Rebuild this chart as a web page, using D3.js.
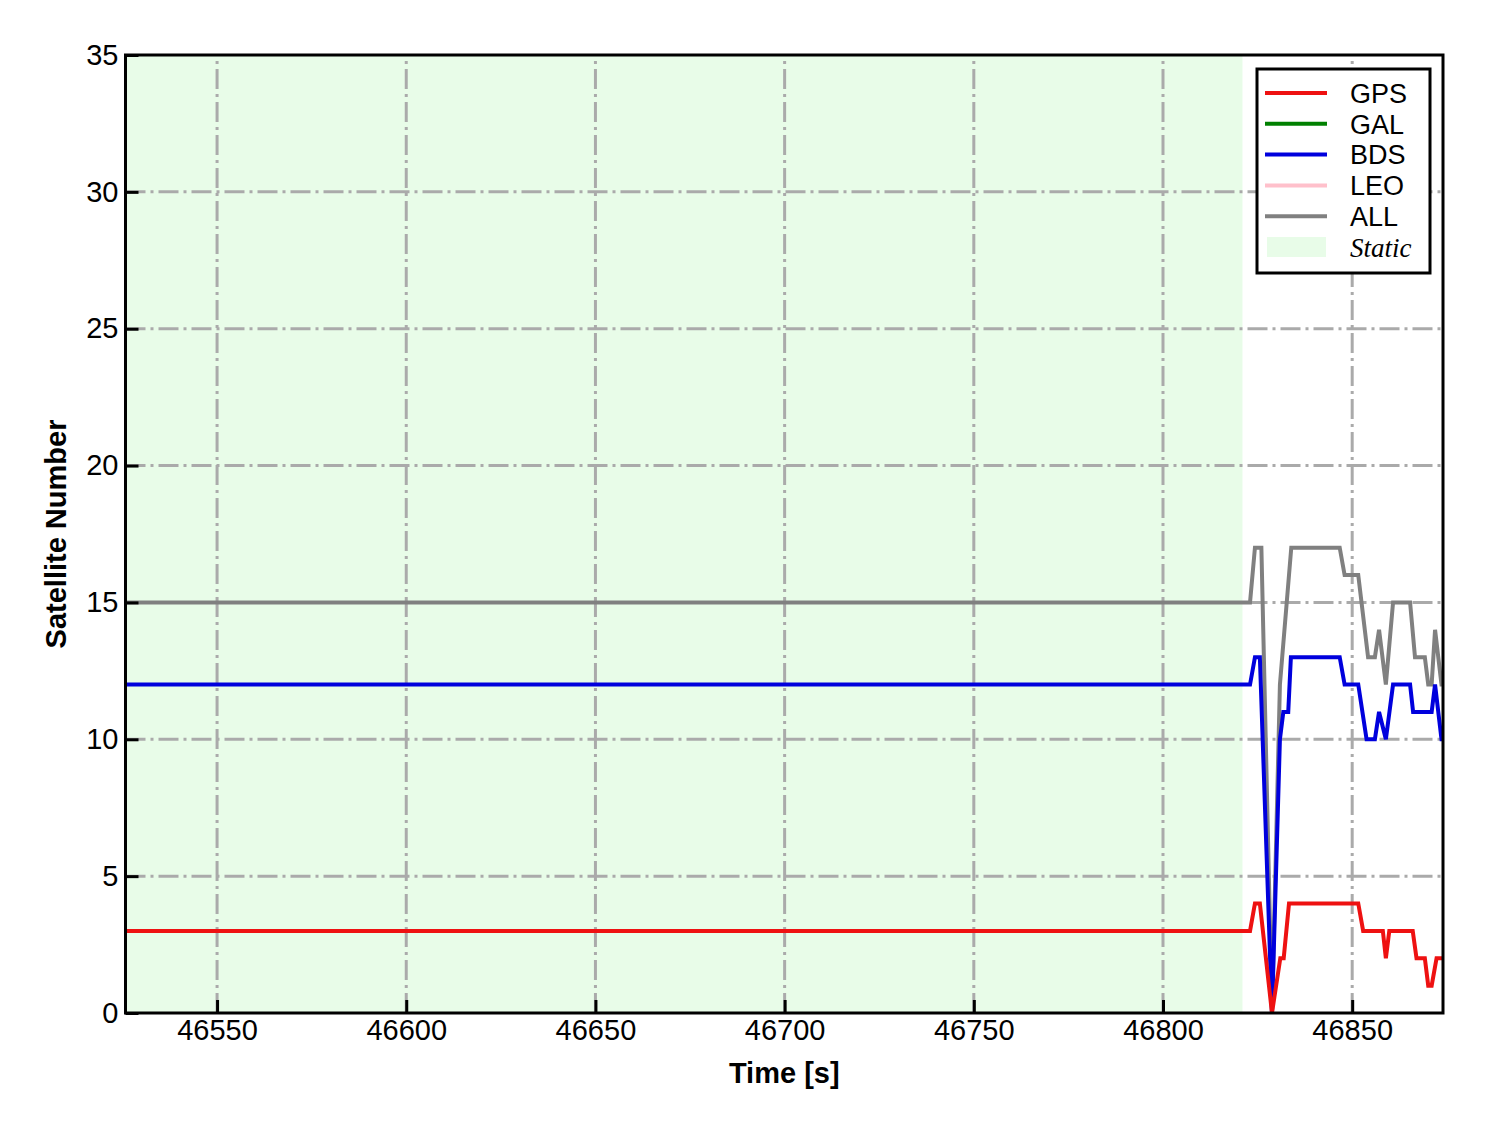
<!DOCTYPE html>
<html>
<head>
<meta charset="utf-8">
<script src="https://cdn.jsdelivr.net/npm/d3@7"></script>
<style>
body { margin: 0; background: #fff; }
text { font-family: "Liberation Sans", Arial, sans-serif; }
</style>
</head>
<body>
<svg width="1488" height="1133"></svg>
<script>
// data (time in s, satellite counts)
const gpsTime = [46525.8, 46823, 46824.3, 46825.6, 46828.8, 46831, 46831.9, 46833.3, 46851.6, 46852.9, 46858.1, 46858.9, 46859.8, 46866, 46867, 46869.2, 46870.1, 46871, 46872.3, 46874];
const gpsNum  = [3, 3, 4, 4, 0, 2, 2, 4, 4, 3, 3, 2, 3, 3, 2, 2, 1, 1, 2, 2];

const bdsTime = [46525.8, 46823, 46824.3, 46825.6, 46828.8, 46830.9, 46831.8, 46833.1, 46833.8, 46846.7, 46848, 46851.6, 46853.8, 46856, 46857.1, 46858.9, 46860.8, 46865.3, 46866.1, 46871, 46871.9, 46873.6, 46874];
const bdsNum  = [12, 12, 13, 13, 0, 10, 11, 11, 13, 13, 12, 12, 10, 10, 11, 10, 12, 12, 11, 11, 12, 10, 10];

const allTime = [46525.8, 46823, 46824.3, 46826, 46828.8, 46830.9, 46833.9, 46846.7, 46848, 46851.6, 46854.2, 46856, 46857.1, 46858.9, 46860.8, 46865.3, 46866.6, 46869.2, 46870.1, 46871, 46871.9, 46873.6, 46874];
const allNum  = [15, 15, 17, 17, 0, 12, 17, 17, 16, 16, 13, 13, 14, 12, 15, 15, 13, 13, 12, 12, 14, 12, 12];

const staticSpan = [46525.8, 46821];
const xTicks = [46550, 46600, 46650, 46700, 46750, 46800, 46850];
const yTicks = [0, 5, 10, 15, 20, 25, 30, 35];
const legendNames = ["GPS", "GAL", "BDS", "LEO", "ALL"];
const legendColors = ["#ee1111", "green", "#0000dd", "pink", "gray"];

const svg = d3.select('svg');
const margin = { top: 55, right: 45, bottom: 120, left: 125.5 };
const width = +svg.attr('width');
const height = +svg.attr('height');

const xScale = d3.scaleLinear()
    .domain([46525.8, 46874])
    .range([margin.left, width - margin.right]);
const yScale = d3.scaleLinear()
    .domain([0, 35])
    .range([height - margin.bottom, margin.top]);

const x0 = xScale.range()[0], x1 = xScale.range()[1];
const y0 = yScale.range()[0], y1 = yScale.range()[1];

svg.append('defs').append('clipPath').attr('id', 'plot')
    .append('rect')
    .attr('x', x0).attr('y', y1)
    .attr('width', x1 - x0).attr('height', y0 - y1);

// static period background
svg.append('rect')
    .attr('x', xScale(staticSpan[0]))
    .attr('y', y1)
    .attr('width', xScale(staticSpan[1]) - xScale(staticSpan[0]))
    .attr('height', y0 - y1)
    .attr('fill', '#e8fce8');

// grid
const grid = svg.append('g')
    .attr('stroke', '#aaaaaa')
    .attr('stroke-width', 3)
    .attr('stroke-dasharray', '20,5,3,5');
grid.selectAll('.vx').data(xTicks).join('line')
    .attr('x1', d => xScale(d)).attr('x2', d => xScale(d))
    .attr('y1', y0).attr('y2', y1);
grid.selectAll('.hy').data(yTicks.slice(1, -1)).join('line')
    .attr('x1', x0).attr('x2', x1)
    .attr('y1', d => yScale(d)).attr('y2', d => yScale(d));

// series
const series = [
    { key: 'ALL', t: allTime, v: allNum, color: legendColors[4] },
    { key: 'BDS', t: bdsTime, v: bdsNum, color: legendColors[2] },
    { key: 'GPS', t: gpsTime, v: gpsNum, color: legendColors[0] }
];
const line = d3.line()
    .x(d => xScale(d[0]))
    .y(d => yScale(d[1]));

svg.append('g')
    .attr('clip-path', 'url(#plot)')
    .selectAll('path')
    .data(series)
    .join('path')
        .attr('fill', 'none')
        .attr('stroke', d => d.color)
        .attr('stroke-width', 4)
        .attr('stroke-linejoin', 'miter')
        .attr('d', d => line(d.t.map((t, i) => [t, d.v[i]])));

// axes (ticks pointing inward)
const xAxis = g => g
    .attr('transform', `translate(0,${y0})`)
    .call(d3.axisBottom(xScale).tickValues(xTicks).tickFormat(d3.format('d'))
        .tickSizeInner(-13).tickSizeOuter(0).tickPadding(6))
    .call(g => g.select('.domain').remove())
    .call(g => g.selectAll('line').attr('stroke-width', 3).attr('stroke', '#000'))
    .call(g => g.selectAll('text').attr('font-size', 29).attr('fill', '#000')
        .attr('font-family', '"Liberation Sans", Arial, sans-serif'));

const yAxis = g => g
    .attr('transform', `translate(${x0},0)`)
    .call(d3.axisLeft(yScale).tickValues(yTicks)
        .tickSizeInner(-13).tickSizeOuter(0).tickPadding(7))
    .call(g => g.select('.domain').remove())
    .call(g => g.selectAll('line').attr('stroke-width', 3).attr('stroke', '#000'))
    .call(g => g.selectAll('text').attr('font-size', 29).attr('fill', '#000')
        .attr('font-family', '"Liberation Sans", Arial, sans-serif'));

svg.append('g').call(xAxis);
svg.append('g').call(yAxis);

// frame
svg.append('rect')
    .attr('x', x0).attr('y', y1)
    .attr('width', x1 - x0).attr('height', y0 - y1)
    .attr('fill', 'none')
    .attr('stroke', '#000')
    .attr('stroke-width', 3);

// axis labels
svg.append('text')
    .attr('x', (x0 + x1) / 2)
    .attr('y', 1083)
    .attr('text-anchor', 'middle')
    .attr('font-size', 29)
    .attr('font-weight', 'bold')
    .text('Time [s]');

svg.append('text')
    .attr('transform', `translate(66,${(y0 + y1) / 2}) rotate(-90)`)
    .attr('text-anchor', 'middle')
    .attr('font-size', 29)
    .attr('font-weight', 'bold')
    .text('Satellite Number');

// legend
const legend = svg.append('g').attr('transform', 'translate(1257,69)');
legend.append('rect')
    .attr('width', 173).attr('height', 204)
    .attr('fill', '#fff')
    .attr('stroke', '#000')
    .attr('stroke-width', 3);

const rowY = i => 24 + i * 30.8;
legendNames.forEach((name, i) => {
    legend.append('line')
        .attr('x1', 8).attr('x2', 70)
        .attr('y1', rowY(i)).attr('y2', rowY(i))
        .attr('stroke', legendColors[i])
        .attr('stroke-width', 4);
    legend.append('text')
        .attr('x', 93).attr('y', rowY(i))
        .attr('dy', '0.36em')
        .attr('font-size', 27)
        .text(name);
});
legend.append('rect')
    .attr('x', 10).attr('y', rowY(5) - 10)
    .attr('width', 59).attr('height', 20)
    .attr('fill', '#e8fce8');
legend.append('text')
    .attr('x', 93).attr('y', rowY(5))
    .attr('dy', '0.36em')
    .attr('font-size', 27)
    .attr('font-style', 'italic')
    .style('font-family', '"Liberation Serif", "Times New Roman", serif')
    .text('Static');
</script>
</body>
</html>
